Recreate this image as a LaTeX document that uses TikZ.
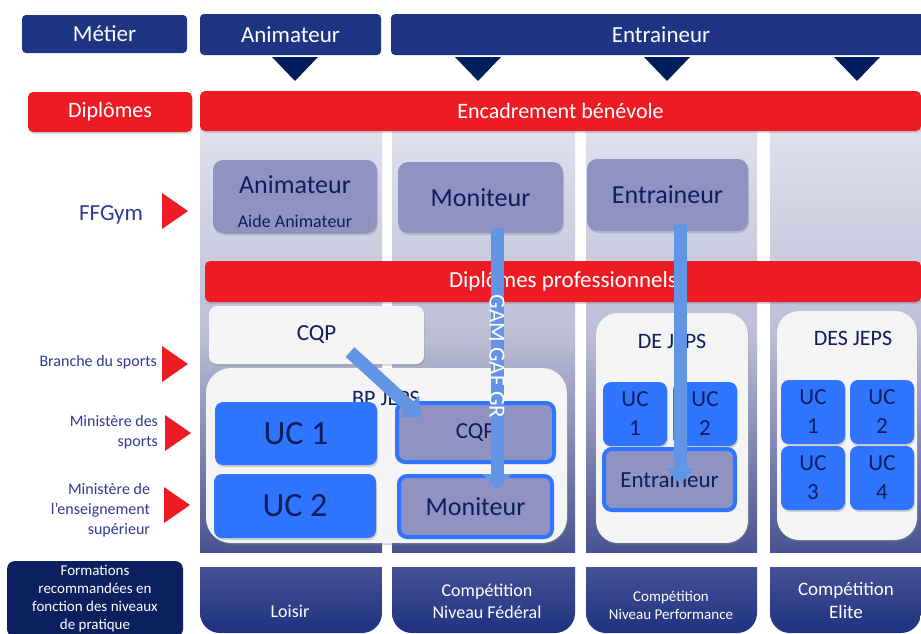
\documentclass[tikz,border=0pt]{standalone}
\usepackage{fontspec}
\setmainfont{Carlito}
\usepackage{tikz}
\usetikzlibrary{arrows.meta,positioning,shadows}
\definecolor{headblue}{RGB}{31,53,132}
\definecolor{trinavy}{RGB}{2,30,92}
\definecolor{barred}{RGB}{237,28,36}
\definecolor{lavbox}{RGB}{144,146,194}
\definecolor{palebox}{RGB}{244,244,244}
\definecolor{ucblue}{RGB}{47,117,255}
\definecolor{txtnavy}{RGB}{13,30,92}
\definecolor{sideblue}{RGB}{46,58,145}
\definecolor{coltop}{RGB}{224,226,239}
\definecolor{colmid}{RGB}{186,189,212}
\definecolor{colbot}{RGB}{72,82,145}
\definecolor{tabtop}{RGB}{96,102,162}
\definecolor{tabbot}{RGB}{31,50,128}
\definecolor{formnavy}{RGB}{12,32,96}
\definecolor{arrowblue}{RGB}{99,149,230}
\tikzset{
  base/.style    = {inner sep=0pt, outer sep=0pt},
  shadowed/.style = {drop shadow={shadow xshift=1pt, shadow yshift=-2pt, opacity=.3}},
  head/.style    = {base, fill=headblue, rounded corners=4pt, text=white, font=\fontsize{23}{27}\selectfont},
  redbar/.style  = {base, shadowed, fill=barred, rounded corners=5pt, text=white, font=\fontsize{22}{26}\selectfont},
  ffbox/.style   = {base, shadowed, fill=lavbox, rounded corners=10pt, text=txtnavy, font=\fontsize{26}{30}\selectfont},
  pale/.style    = {base, shadowed, fill=palebox, text=txtnavy, font=\fontsize{23}{27}\selectfont},
  uc/.style      = {base, shadowed, fill=ucblue, rounded corners=8pt, text=txtnavy, align=center, font=\fontsize{23}{29}\selectfont},
  ucframe/.style = {base, shadowed, fill=lavbox, draw=ucblue, line width=4pt, rounded corners=8pt, text=txtnavy, font=\fontsize{23}{27}\selectfont},
  title/.style   = {base, text=txtnavy, font=\fontsize{22}{26}\selectfont},
  side/.style    = {base, text=sideblue, align=right, font=\fontsize{16}{20}\selectfont},
  level/.style   = {base, text=white, align=center},
  tri/.style     = {fill=trinavy},
  pointer/.style = {fill=barred},
  fat/.style     = {arrowblue, line width=13pt, -{Triangle[width=28pt,length=16pt]}},
  colbg/.style   = {top color=coltop, bottom color=colbot, middle color=colmid},
  tabbg/.style   = {top color=tabtop, bottom color=tabbot, rounded corners=20pt},
}
\begin{document}
\begin{tikzpicture}[x=1pt,y=-1pt]
    \useasboundingbox (0,0) rectangle (921,633);
    \foreach \xa/\xb in {200/382,392/575,586/757,770/921}{
      \shade[colbg] (\xa,125) rectangle (\xb,552);
      \begin{scope}
        \clip (\xa,567) rectangle (\xb,640);
        \shade[tabbg] (\xa,520) rectangle (\xb,633);
      \end{scope}
    }

    \node[head, minimum width=165pt, minimum height=38pt] (metier) at (104.5,34) {Métier};
    \node[head, minimum width=181pt, minimum height=41pt] (hanim) at (290.5,34.5) {Animateur};
    \node[head, minimum width=540pt, minimum height=41pt] (hentr) at (661,34.5) {Entraineur};
    \foreach \xx in {295,478,667,857}
      \fill[tri] (\xx-23,57) -- (\xx,81) -- (\xx+23,57) -- cycle;

    \node[redbar, minimum width=164pt, minimum height=40pt] (diplomes) at (110,112) {Diplômes};
    \node[redbar, minimum width=721pt, minimum height=40pt] (benevole) at (560.5,111) {Encadrement bénévole};

    \node[side, anchor=east, font=\fontsize{23}{27}\selectfont] (ffgym) at (143,215) {FFGym};
    \node[side, anchor=east] (branche) at (157,362) {Branche du sports};
    \node[side, anchor=east] (minsport) at (158,432) {Ministère des\\sports};
    \node[side, anchor=east] (minsup) at (150,510) {Ministère de\\l’enseignement\\supérieur};
    \foreach \xx/\yy in {162/211,162/364,165/433,164/505}
      \fill[pointer] (\xx,\yy-18) -- (\xx+26,\yy) -- (\xx,\yy+18) -- cycle;

    \node[ffbox, minimum width=164pt, minimum height=73pt] (animff) at (295,196.5) {};
    \node[title, font=\fontsize{26}{30}\selectfont] (animtxt) at (295,185) {Animateur};
    \node[ffbox, rounded corners=3pt, minimum width=146pt, minimum height=21pt, font=\fontsize{18}{22}\selectfont] (aide) at (295,221.5) {Aide Animateur};
    \node[ffbox, minimum width=165pt, minimum height=71pt] (monff) at (480.5,197.5) {Moniteur};
    \node[ffbox, minimum width=161pt, minimum height=72pt] (entff) at (667.5,195) {Entraineur};

    \node[redbar, minimum width=716pt, minimum height=41pt, font=\fontsize{23}{27}\selectfont] (diplpro) at (563,281.5) {Diplômes professionnels};

    \node[pale, rounded corners=8pt, minimum width=215pt, minimum height=58pt] (cqp) at (316.5,335) {CQP};
    \node[pale, rounded corners=25pt, minimum width=361pt, minimum height=175pt] (bpjeps) at (386.5,455.5) {};
    \node[title] (bptxt) at (386,398) {BP JEPS};
    \node[uc, minimum width=162pt, minimum height=63pt, font=\fontsize{34}{38}\selectfont] (bpuc1) at (296,433.5) {UC 1};
    \node[uc, minimum width=162pt, minimum height=64pt, font=\fontsize{34}{38}\selectfont] (bpuc2) at (295,506) {UC 2};
    \node[ucframe, minimum width=157pt, minimum height=59pt] (bpcqp) at (475.5,432.5) {CQP};
    \node[ucframe, minimum width=153pt, minimum height=61pt, font=\fontsize{26}{30}\selectfont] (bpmon) at (475.5,506.5) {Moniteur};

    \node[pale, rounded corners=22pt, minimum width=152pt, minimum height=230pt] (dejeps) at (672,428) {};
    \node[title] (detxt) at (672,341) {DE JEPS};
    \node[uc, minimum size=64pt] (deuc1) at (635,414) {UC\\1};
    \node[uc, minimum size=64pt] (deuc2) at (705,414) {UC\\2};
    \node[ucframe, minimum width=131pt, minimum height=61pt] (deent) at (669.5,479.5) {Entraineur};

    \node[pale, rounded corners=22pt, minimum width=140pt, minimum height=229pt] (desjeps) at (847,425.5) {};
    \node[title] (destxt) at (853,338) {DES JEPS};
    \node[uc, minimum size=64pt] (desuc1) at (813,412) {UC\\1};
    \node[uc, minimum size=64pt] (desuc2) at (882,412) {UC\\2};
    \node[uc, minimum size=64pt] (desuc3) at (813,478) {UC\\3};
    \node[uc, minimum size=64pt] (desuc4) at (882,478) {UC\\4};

    \coordinate (cqpfrom) at (350,352);
    \coordinate (cqpto) at (421,417);
    \coordinate (gamfrom) at (497,228);
    \coordinate (gamto) at (497,490);
    \coordinate (defrom) at (680,224);
    \coordinate (deto) at (680,484);
    \draw[fat] (cqpfrom) -- (cqpto);
    \draw[fat] (gamfrom) -- node[base, pos=0.49, rotate=-90, text=white, font=\fontsize{23}{27}\selectfont] (gamtxt) {GAM GAF GR} (gamto);
    \draw[fat] (defrom) -- (deto);

    \node[base, fill=formnavy, rounded corners=8pt, minimum width=176pt, minimum height=76pt, text=white, align=center, font=\fontsize{15}{18}\selectfont] (formations) at (95,599) {Formations\\recommandées en\\fonction des niveaux\\de pratique};
    \node[level, font=\fontsize{18}{22}\selectfont] (loisir) at (290,611) {Loisir};
    \node[level, font=\fontsize{18}{22}\selectfont] (federal) at (487,601) {Compétition\\Niveau Fédéral};
    \node[level, font=\fontsize{15}{18}\selectfont] (perf) at (671,605) {Compétition\\Niveau Performance};
    \node[level, font=\fontsize{19}{23}\selectfont] (elite) at (846,600) {Compétition\\Elite};
  \end{tikzpicture}
\end{document}
